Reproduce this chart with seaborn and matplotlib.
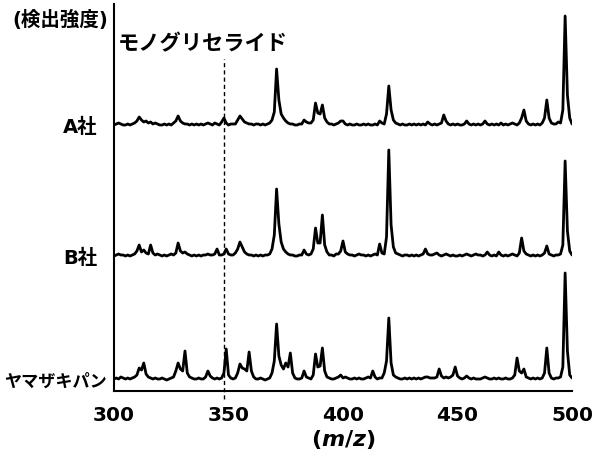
import numpy as np
import matplotlib
matplotlib.use("Agg")
import matplotlib.pyplot as plt
import seaborn as sns

# m/z axis, one reading per unit
mz = np.arange(300, 501)

# detected intensity (arbitrary units)
a_sha = [
    1, 2, 3, 2, 1, 1, 2, 1, 2, 3,
    5, 9, 6, 4, 5, 3, 4, 2, 3, 2,
    1, 1, 2, 1, 2, 1, 3, 5, 10, 5,
    3, 2, 2, 1, 2, 1, 2, 1, 2, 1,
    2, 3, 2, 1, 3, 2, 1, 4, 8, 3,
    1, 2, 2, 2, 6, 10, 7, 4, 3, 2,
    2, 1, 2, 2, 1, 2, 1, 2, 3, 6,
    14, 57, 26, 12, 8, 5, 3, 2, 2, 1,
    1, 2, 2, 6, 4, 3, 3, 6, 23, 13,
    12, 21, 8, 4, 2, 2, 1, 2, 3, 5,
    5, 2, 1, 2, 1, 1, 2, 1, 1, 2,
    1, 2, 1, 1, 2, 1, 5, 3, 2, 12,
    40, 16, 6, 3, 2, 1, 2, 1, 1, 2,
    1, 2, 1, 2, 1, 2, 1, 4, 2, 1,
    2, 1, 2, 3, 11, 5, 2, 1, 2, 1,
    2, 1, 1, 2, 5, 2, 1, 2, 1, 2,
    1, 2, 5, 2, 1, 2, 1, 2, 1, 3,
    1, 2, 1, 2, 3, 2, 1, 3, 8, 16,
    5, 2, 1, 2, 1, 2, 1, 3, 8, 26,
    8, 3, 2, 2, 4, 3, 16, 110, 31, 8,
    2,
]

b_sha = [
    1, 2, 3, 2, 2, 1, 2, 1, 2, 3,
    6, 12, 5, 7, 4, 3, 12, 4, 2, 3,
    2, 1, 2, 1, 2, 3, 2, 4, 14, 6,
    4, 5, 3, 2, 1, 2, 1, 2, 1, 2,
    2, 3, 2, 2, 3, 8, 2, 2, 3, 8,
    3, 2, 2, 4, 8, 15, 10, 5, 3, 2,
    2, 1, 2, 1, 2, 1, 2, 2, 3, 8,
    22, 68, 33, 15, 8, 5, 3, 2, 2, 1,
    1, 2, 2, 7, 3, 2, 3, 8, 29, 14,
    14, 42, 12, 5, 2, 2, 1, 3, 3, 6,
    16, 5, 3, 2, 2, 1, 2, 3, 2, 2,
    1, 2, 1, 2, 3, 2, 13, 4, 3, 20,
    107, 32, 10, 4, 3, 2, 1, 2, 2, 1,
    2, 1, 2, 1, 2, 3, 8, 3, 2, 2,
    3, 4, 2, 1, 2, 3, 2, 1, 2, 1,
    1, 2, 1, 2, 3, 2, 1, 2, 3, 2,
    2, 1, 2, 5, 2, 1, 2, 1, 5, 2,
    1, 2, 1, 2, 3, 2, 1, 4, 19, 6,
    3, 2, 1, 2, 1, 2, 1, 2, 4, 11,
    3, 2, 1, 2, 2, 3, 12, 96, 26, 6,
    2,
]

yamazaki = [
    2, 3, 2, 4, 3, 2, 3, 2, 3, 4,
    6, 13, 11, 18, 7, 4, 3, 2, 3, 2,
    2, 3, 2, 1, 2, 3, 4, 10, 18, 12,
    10, 30, 8, 4, 3, 2, 2, 3, 2, 2,
    4, 10, 5, 3, 2, 3, 2, 3, 8, 32,
    6, 3, 2, 3, 8, 17, 13, 12, 10, 29,
    10, 4, 2, 2, 3, 2, 1, 2, 3, 8,
    20, 57, 25, 16, 12, 18, 14, 28, 8, 3,
    2, 2, 3, 10, 4, 3, 2, 6, 27, 14,
    15, 33, 10, 4, 3, 2, 2, 3, 4, 6,
    3, 4, 3, 2, 2, 3, 2, 3, 2, 2,
    3, 4, 3, 10, 4, 2, 3, 3, 8, 20,
    63, 18, 6, 4, 3, 2, 2, 3, 2, 3,
    2, 3, 2, 3, 2, 3, 4, 4, 3, 3,
    3, 4, 12, 5, 3, 4, 3, 4, 6, 14,
    5, 3, 2, 3, 5, 3, 2, 3, 2, 2,
    2, 3, 4, 3, 2, 2, 3, 2, 3, 2,
    2, 3, 2, 2, 3, 6, 23, 10, 8, 12,
    4, 3, 2, 3, 2, 3, 2, 3, 8, 33,
    8, 3, 2, 3, 3, 4, 14, 108, 30, 6,
    3,
]

samples = ["A社", "B社", "ヤマザキパン"]
spectra = [a_sha, b_sha, yamazaki]
offsets = [265, 134, 10]
label_x = [292.6, 292.6, 296.9]
label_size = [14, 14, 12.3]
mono_mz = 348
xticks = [300, 350, 400, 450, 500]

sns.set_style("white")
plt.rcParams["font.family"] = ["DejaVu Sans", "Noto Sans CJK JP"]
plt.rcParams["font.weight"] = "bold"
plt.rcParams["text.color"] = "black"
plt.rcParams["xtick.color"] = "black"
plt.rcParams["axes.labelcolor"] = "black"
plt.rcParams["mathtext.fontset"] = "custom"
plt.rcParams["mathtext.rm"] = "DejaVu Sans:bold"
plt.rcParams["mathtext.it"] = "DejaVu Sans:italic:bold"

fig = plt.figure(figsize=(5.96, 4.60), dpi=100)
ax = fig.add_axes([114 / 596, 68 / 460, 458 / 596, 387 / 460])

for name, vals, off, lx, fs in zip(samples, spectra, offsets, label_x, label_size):
    sns.lineplot(x=mz, y=np.array(vals) + off, color="black", linewidth=2.0,
                 estimator=None, ax=ax)
    ax.text(lx, off, name, ha="right", va="center", fontsize=fs,
            fontweight="bold")

# monoglyceride marker
ax.plot([mono_mz, mono_mz], [-8, 332], color="black", linestyle=(0, (3, 2.2)),
        linewidth=1.0, clip_on=False)
ax.text(301.7, 348, "モノグリセライド", ha="left", va="center", fontsize=15.3,
        fontweight="bold")
ax.text(297.4, 372, "(検出強度)", ha="right", va="center", fontsize=14,
        fontweight="bold")

ax.set_xlim(300, 500)
ax.set_ylim(0, 387)
ax.set_xticks(xticks)
ax.set_xticklabels([str(t) for t in xticks], fontsize=14.5, fontweight="bold")
ax.set_yticks([])
ax.tick_params(axis="x", length=0, pad=10)
ax.set_xlabel("$(m/z)$", fontsize=16, labelpad=2)
ax.set_ylabel("")
sns.despine(ax=ax, top=True, right=True)
for s in ["left", "bottom"]:
    ax.spines[s].set_linewidth(1.5)
    ax.spines[s].set_color("black")

fig.savefig("out.png", dpi=100)
